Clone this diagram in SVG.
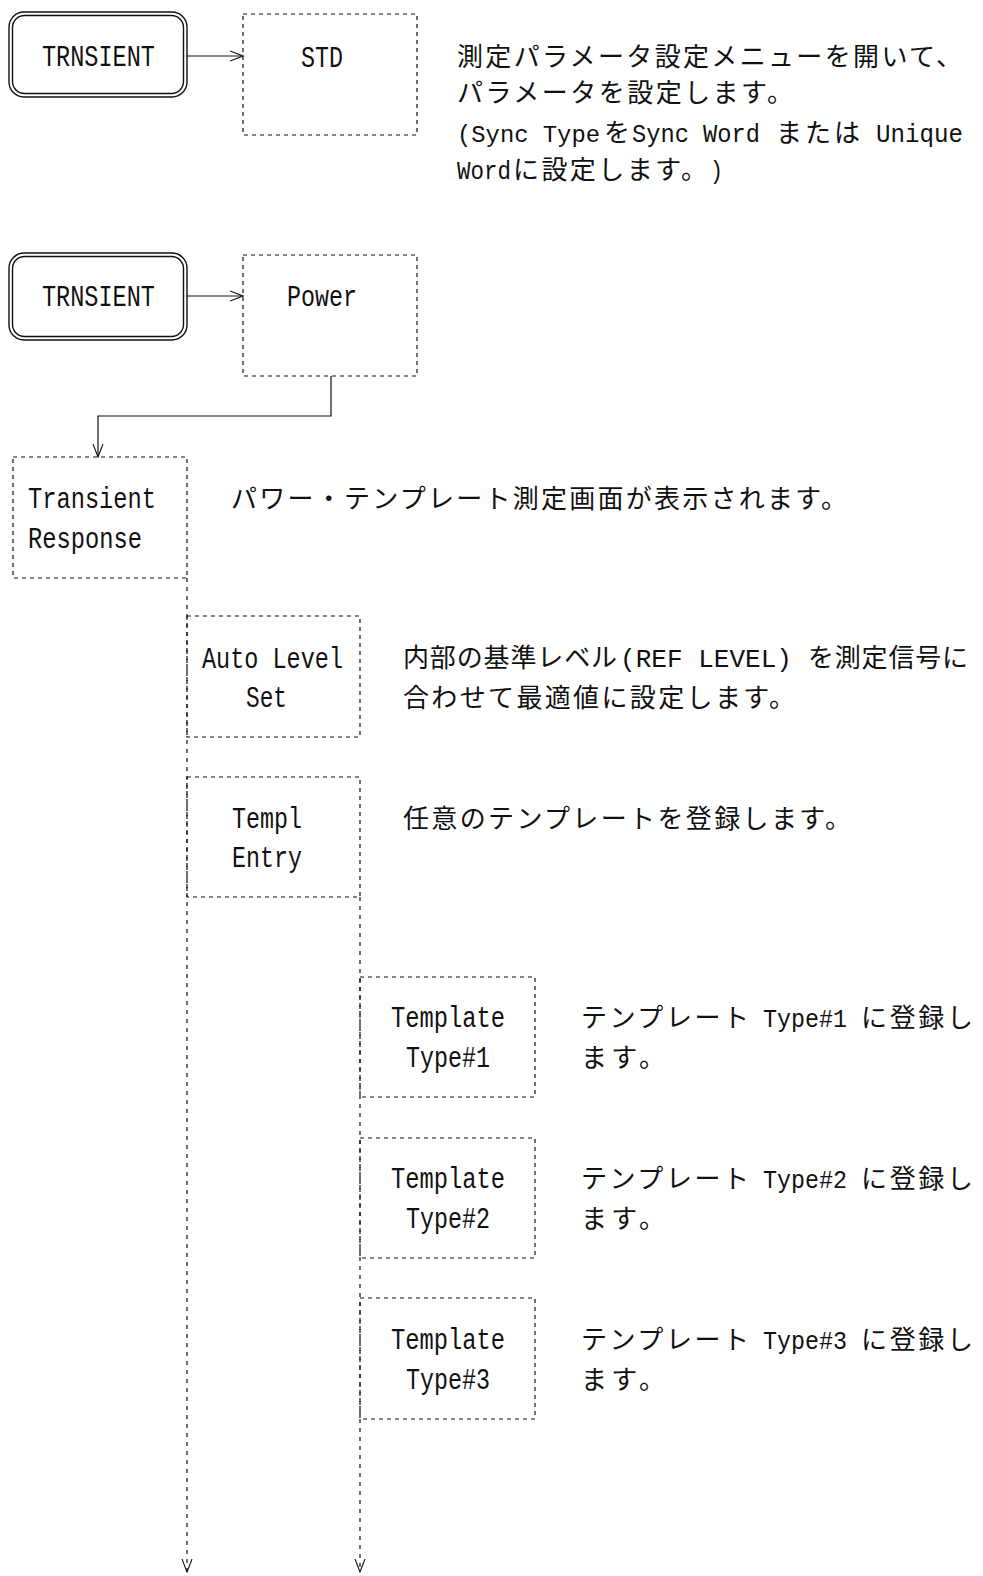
<svg xmlns="http://www.w3.org/2000/svg" width="983" height="1576" viewBox="0 0 983 1576">
<style>
.bg{fill:#ffffff}
.dbox{fill:none;stroke:#111;stroke-width:1.2;stroke-dasharray:4 4}
.key{fill:none;stroke:#111;stroke-width:1.4}
.lbl{font-family:"Liberation Mono","DejaVu Sans Mono",monospace;font-size:30px;fill:#111}
.desc{font-family:"Noto Sans CJK JP","Noto Sans CJK SC",sans-serif;font-size:26px;fill:#111}
.dl{font-family:"Liberation Mono","DejaVu Sans Mono",monospace;font-size:26px}
.conn{fill:none;stroke:#111;stroke-width:1.2}
.dconn{fill:none;stroke:#111;stroke-width:1.2;stroke-dasharray:4 5}
</style>
<defs>
<marker id="arr" viewBox="0 0 14 12" refX="13" refY="6" markerWidth="14" markerHeight="12" orient="auto" markerUnits="userSpaceOnUse">
<path d="M0,1 L13,6 L0,11" fill="none" stroke="#111" stroke-width="1.1" stroke-dasharray="none"/>
</marker>
</defs>
<rect class="bg" x="0" y="0" width="983" height="1576"/>

<g id="connectors">
<line class="conn" x1="187" y1="56" x2="243" y2="56" marker-end="url(#arr)"/>
<line class="conn" x1="187" y1="296" x2="243" y2="296" marker-end="url(#arr)"/>
<polyline class="conn" points="331,376 331,416 98,416 98,457" marker-end="url(#arr)"/>
<line class="dconn" x1="187" y1="578" x2="187" y2="1572" marker-end="url(#arr)"/>
<line class="dconn" x1="360" y1="897" x2="360" y2="1572" marker-end="url(#arr)"/>
</g>

<g id="trnsient1">
<rect class="key" x="9" y="12" width="178" height="85" rx="15"/>
<rect class="key" x="12.5" y="15.5" width="171" height="78" rx="12" stroke-width="1"/>
<text class="lbl" x="42" y="66" textLength="113" lengthAdjust="spacingAndGlyphs">TRNSIENT</text>
</g>

<g id="std">
<rect class="dbox" x="243" y="14" width="174" height="121"/>
<text class="lbl" x="301" y="67" textLength="42" lengthAdjust="spacingAndGlyphs">STD</text>
</g>

<g id="std-desc">
<text class="desc" x="457" y="66" textLength="505">測定パラメータ設定メニューを開いて、</text>
<text class="desc" x="457" y="102" textLength="336">パラメータを設定します。</text>
<text class="desc" y="142"><tspan class="dl" x="457" y="142" style="font-size:24px" textLength="143" lengthAdjust="spacingAndGlyphs">(Sync Type</tspan><tspan x="604" y="142">を</tspan><tspan class="dl" x="632" y="142" textLength="128" lengthAdjust="spacingAndGlyphs">Sync Word</tspan><tspan x="776" y="142" textLength="84">または</tspan><tspan class="dl" x="876" y="142" textLength="87" lengthAdjust="spacingAndGlyphs">Unique</tspan></text>
<text class="desc" y="179"><tspan class="dl" x="457" y="179" textLength="54" lengthAdjust="spacingAndGlyphs">Word</tspan><tspan x="513" y="179" textLength="194">に設定します。</tspan><tspan class="dl" x="710" y="179" textLength="13" lengthAdjust="spacingAndGlyphs">)</tspan></text>
</g>

<g id="trnsient2">
<rect class="key" x="9" y="253" width="178" height="87" rx="15"/>
<rect class="key" x="12.5" y="256.5" width="171" height="80" rx="12" stroke-width="1"/>
<text class="lbl" x="42" y="306" textLength="113" lengthAdjust="spacingAndGlyphs">TRNSIENT</text>
</g>

<g id="power">
<rect class="dbox" x="243" y="255" width="174" height="121"/>
<text class="lbl" x="287" y="306" textLength="70" lengthAdjust="spacingAndGlyphs">Power</text>
</g>

<g id="transient-response">
<rect class="dbox" x="13" y="457" width="174" height="121"/>
<text class="lbl" x="28" y="508" textLength="128" lengthAdjust="spacingAndGlyphs">Transient</text>
<text class="lbl" x="28" y="548" textLength="114" lengthAdjust="spacingAndGlyphs">Response</text>
<text class="desc" x="231" y="508" textLength="616">パワー・テンプレート測定画面が表示されます。</text>
</g>

<g id="auto-level-set">
<rect class="dbox" x="187" y="616" width="173" height="121"/>
<text class="lbl" x="202" y="668" textLength="141" lengthAdjust="spacingAndGlyphs">Auto Level</text>
<text class="lbl" x="246" y="707" textLength="41" lengthAdjust="spacingAndGlyphs">Set</text>
<text class="desc" y="667"><tspan x="403" textLength="214">内部の基準レベル</tspan><tspan class="dl" x="620" y="667" textLength="172" lengthAdjust="spacingAndGlyphs">(REF LEVEL)</tspan><tspan x="808" y="667" textLength="160">を測定信号に</tspan></text>
<text class="desc" x="403" y="707" textLength="392">合わせて最適値に設定します。</text>
</g>

<g id="templ-entry">
<rect class="dbox" x="187" y="777" width="173" height="120"/>
<text class="lbl" x="232" y="828" textLength="70" lengthAdjust="spacingAndGlyphs">Templ</text>
<text class="lbl" x="232" y="867" textLength="70" lengthAdjust="spacingAndGlyphs">Entry</text>
<text class="desc" x="403" y="828" textLength="448">任意のテンプレートを登録します。</text>
</g>

<g id="template-type1">
<rect class="dbox" x="360" y="977" width="175" height="120"/>
<text class="lbl" x="391" y="1027" textLength="114" lengthAdjust="spacingAndGlyphs">Template</text>
<text class="lbl" x="406" y="1067" textLength="84" lengthAdjust="spacingAndGlyphs">Type#1</text>
<text class="desc" y="1027"><tspan x="581" textLength="168">テンプレート</tspan><tspan class="dl" x="763" y="1027" textLength="84" lengthAdjust="spacingAndGlyphs">Type#1</tspan><tspan x="861" y="1027" textLength="112">に登録し</tspan></text>
<text class="desc" x="581" y="1067" textLength="84">ます。</text>
</g>

<g id="template-type2">
<rect class="dbox" x="360" y="1138" width="175" height="120"/>
<text class="lbl" x="391" y="1188" textLength="114" lengthAdjust="spacingAndGlyphs">Template</text>
<text class="lbl" x="406" y="1228" textLength="84" lengthAdjust="spacingAndGlyphs">Type#2</text>
<text class="desc" y="1188"><tspan x="581" textLength="168">テンプレート</tspan><tspan class="dl" x="763" y="1188" textLength="84" lengthAdjust="spacingAndGlyphs">Type#2</tspan><tspan x="861" y="1188" textLength="112">に登録し</tspan></text>
<text class="desc" x="581" y="1228" textLength="84">ます。</text>
</g>

<g id="template-type3">
<rect class="dbox" x="360" y="1298" width="175" height="121"/>
<text class="lbl" x="391" y="1349" textLength="114" lengthAdjust="spacingAndGlyphs">Template</text>
<text class="lbl" x="406" y="1389" textLength="84" lengthAdjust="spacingAndGlyphs">Type#3</text>
<text class="desc" y="1349"><tspan x="581" textLength="168">テンプレート</tspan><tspan class="dl" x="763" y="1349" textLength="84" lengthAdjust="spacingAndGlyphs">Type#3</tspan><tspan x="861" y="1349" textLength="112">に登録し</tspan></text>
<text class="desc" x="581" y="1389" textLength="84">ます。</text>
</g>
</svg>
